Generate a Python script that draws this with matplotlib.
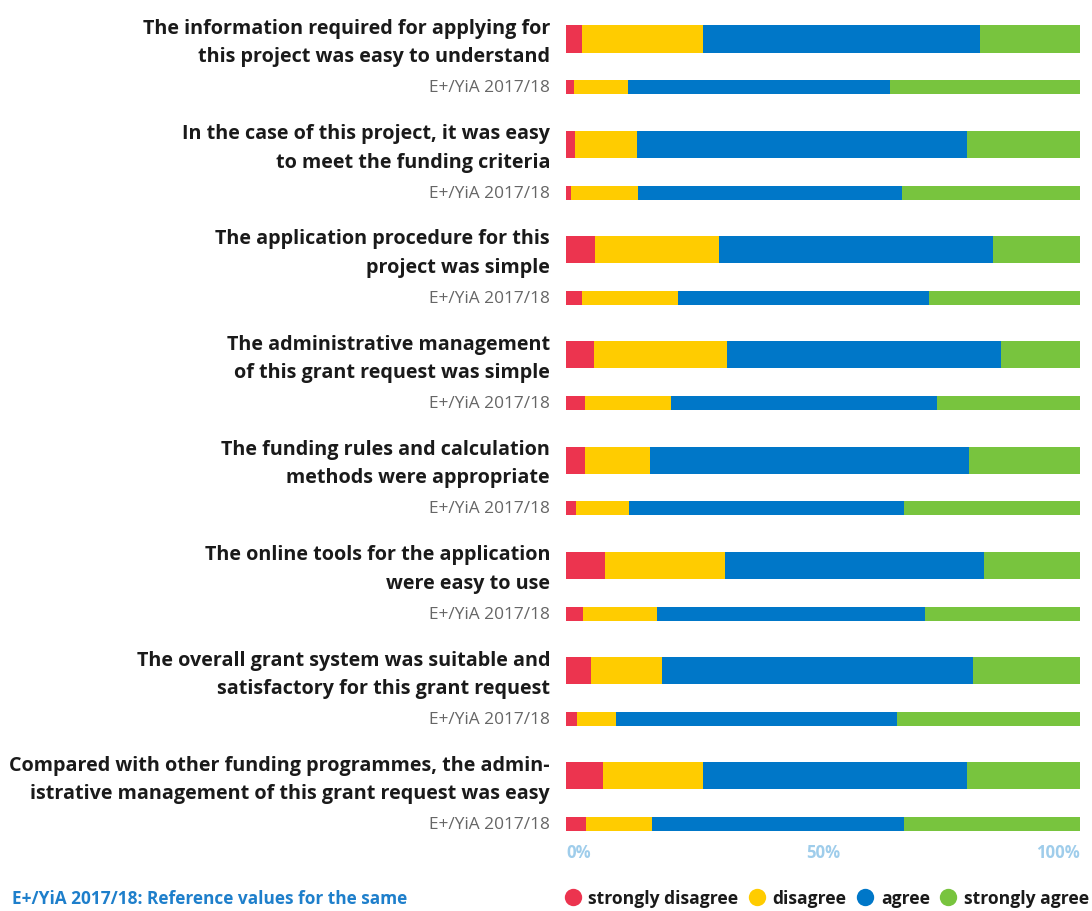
import matplotlib
matplotlib.use('Agg')

import matplotlib.pyplot as plt
from matplotlib.lines import Line2D

plt.rcParams['font.family'] = ['Open Sans', 'DejaVu Sans']

QUESTIONS = [
    "The information required for applying for\nthis project was easy to understand",
    "In the case of this project, it was easy\nto meet the funding criteria",
    "The application procedure for this\nproject was simple",
    "The administrative management\nof this grant request was simple",
    "The funding rules and calculation\nmethods were appropriate",
    "The online tools for the application\nwere easy to use",
    "The overall grant system was suitable and\nsatisfactory for this grant request",
    "Compared with other funding programmes, the admin-\nistrative management of this grant request was easy",
]
REF_LABEL = "E+/YiA 2017/18"
CATEGORIES = ["strongly disagree", "disagree", "agree", "strongly agree"]
COLORS = ["#EC344F", "#FFCC00", "#0077C8", "#78C43E"]

# project answers (percent)
main_sd = [3.1, 1.7, 5.7, 5.5, 3.7, 7.6, 4.9, 7.2]
main_d = [23.5, 12.1, 24.0, 25.8, 12.6, 23.3, 13.8, 19.4]
main_a = [54.0, 64.2, 53.4, 53.4, 62.1, 50.4, 60.5, 51.4]
main_sa = [19.4, 22.0, 16.9, 15.3, 21.6, 18.7, 20.8, 22.0]

# reference values E+/YiA 2017/18 (percent)
ref_sd = [1.5, 1.0, 3.1, 3.7, 1.9, 3.3, 2.1, 3.9]
ref_d = [10.5, 13.0, 18.7, 16.7, 10.3, 14.4, 7.6, 12.8]
ref_a = [51.0, 51.4, 48.9, 51.8, 53.6, 52.2, 54.7, 49.1]
ref_sa = [37.0, 34.6, 29.3, 27.8, 34.2, 30.1, 35.6, 34.2]

TICKS = [0, 50, 100]
TICK_LABELS = ["0%", "50%", "100%"]


def stacked(ax, ys, series, height):
    left = [0.0] * len(ys)
    for vals, col in zip(series, COLORS):
        ax.barh(ys, vals, left=left, height=height, color=col, linewidth=0)
        left = [l + v for l, v in zip(left, vals)]


def main():
    fig = plt.figure(figsize=(10.92, 9.12), dpi=100)
    # axes spans pixel rows 20..840 of the image
    ax = fig.add_axes([566 / 1092, 72 / 912, 514 / 1092, 820 / 912])

    n = len(QUESTIONS)
    y_main = list(range(n))
    y_ref = [y + 0.46 for y in y_main]

    stacked(ax, y_main, [main_sd, main_d, main_a, main_sa], 0.257)
    stacked(ax, y_ref, [ref_sd, ref_d, ref_a, ref_sa], 0.133)

    ax.set_xlim(0, 100)
    ax.set_ylim(7.6, -0.19)
    ax.axis('off')

    # question labels and reference labels
    for y, q in zip(y_main, QUESTIONS):
        ax.text(-3.1, y + 0.03, q, ha='right', va='center', fontsize=14.2,
                fontweight='bold', color='#1a1a1a', linespacing=1.56)
    for y in y_ref:
        ax.text(-3.1, y, REF_LABEL, ha='right', va='center', fontsize=12.4,
                color='#666666')

    # x tick labels
    aligns = ['left', 'center', 'right']
    for t, lab, ha in zip(TICKS, TICK_LABELS, aligns):
        ax.text(t, 7.72, lab, ha=ha, va='center', fontsize=12.1,
                fontweight='bold', color='#9FCDEB', clip_on=False)

    fig.text(12 / 1092, 1 - 899 / 912, "E+/YiA 2017/18: Reference values for the same",
             ha='left', va='center', fontsize=12.45, fontweight='bold',
             color='#1E7FCB')

    handles = [Line2D([], [], marker='o', linestyle='none', markersize=12.5,
                      markerfacecolor=c, markeredgewidth=0) for c in COLORS]
    leg = fig.legend(handles, CATEGORIES, loc='center right',
                     bbox_to_anchor=(1089 / 1092, 1 - 899 / 912), ncol=4,
                     frameon=False, handletextpad=0.4, columnspacing=0.55,
                     handlelength=1.0, borderaxespad=0, borderpad=0,
                     prop={'size': 12.6, 'weight': 'bold'})
    for t in leg.get_texts():
        t.set_color('#1a1a1a')

    fig.savefig("out.png", dpi=100)


if __name__ == "__main__":
    main()
